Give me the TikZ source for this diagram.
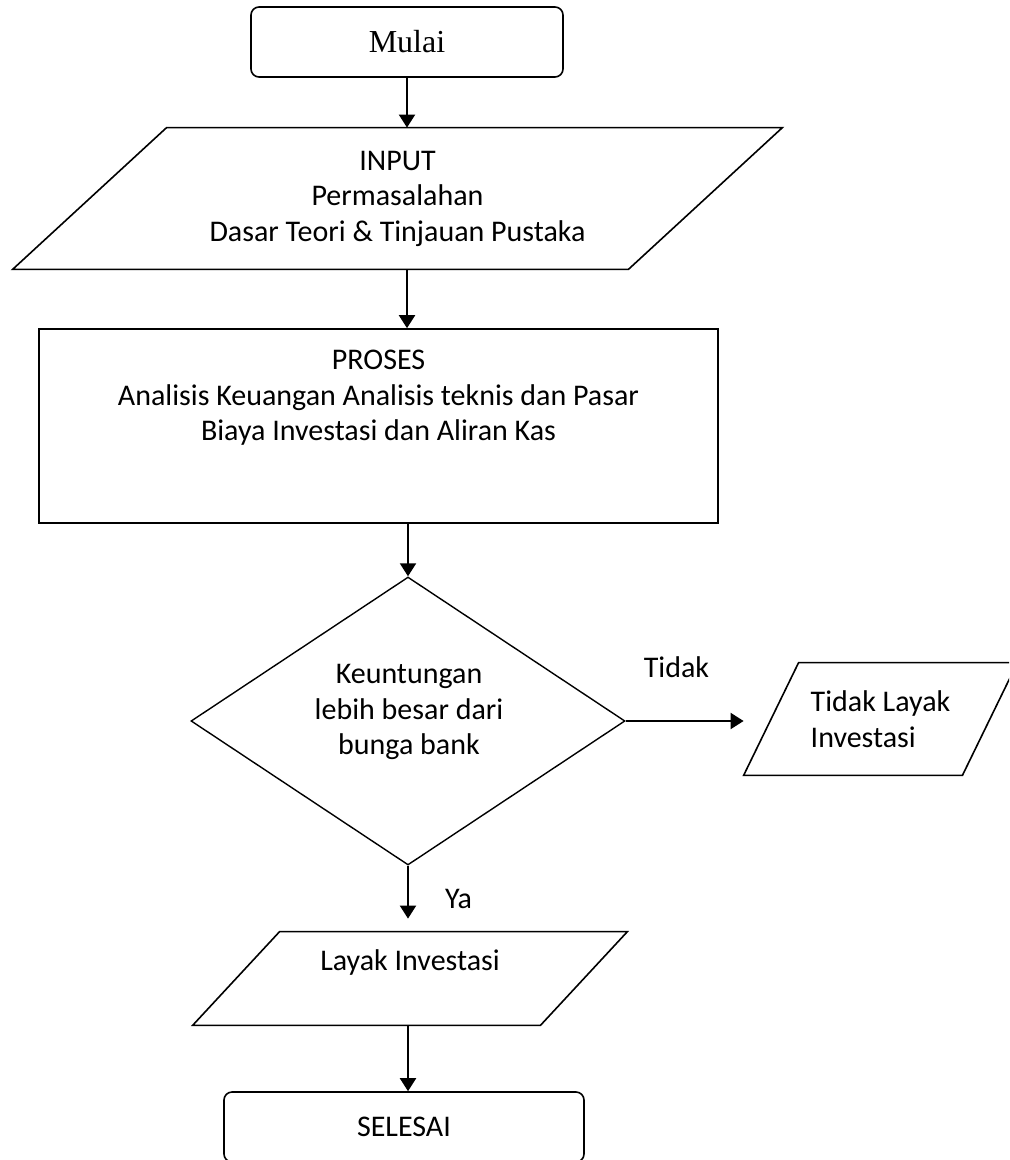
\documentclass[tikz,border=0pt]{standalone}
\usepackage{fontspec}
\setmainfont{Carlito}
\newfontfamily\mulaiserif{Liberation Serif}
\usetikzlibrary{arrows.meta, positioning}
\newcommand{\flowfont}{\fontsize{15}{17.75}\selectfont}
\newcommand{\mulaifont}{\mulaiserif\fontsize{16}{19}\selectfont}
\tikzset{
  terminal/.style={
    rectangle,
    rounded corners=4pt,
    draw,
    line width=0.8pt,
    inner sep=0pt,
    minimum height=35pt,
    font=\flowfont
  },
  process/.style={
    rectangle,
    draw,
    line width=0.8pt,
    inner sep=0pt
  },
  iobox/.style={
    rectangle,
    inner sep=0pt,
    align=center,
    font=\flowfont
  },
  ioline/.style={line width=0.8pt, line join=miter},
  decision/.style={
    diamond,
    draw,
    line width=0.7pt,
    inner sep=0pt
  },
  txt/.style={align=center, inner sep=0pt, font=\flowfont},
  arrow/.style={-{Triangle[length=6.5pt, width=8pt]}, line width=1pt},
  note/.style={inner sep=0pt, font=\flowfont}
}
\usetikzlibrary{shapes.geometric}
\begin{document}
\begin{tikzpicture}[x=0.5pt,y=-0.5pt]
\useasboundingbox (0,0) rectangle (1009,1160);
\clip (0,0) rectangle (1009,1160);
\node[terminal, minimum width=156pt, font=\mulaifont] (mulai) at (407,42) {Mulai};
% input / output boxes: slanted outline drawn from the node corners
\node[iobox, minimum width=384.5pt, minimum height=70.5pt] (input) at (397.5,198.5) {INPUT\\Permasalahan\\Dasar Teori \& Tinjauan Pustaka};
\draw[ioline] ([xshift=77pt]input.north west) -- (input.north east) -- ([xshift=-77pt]input.south east) -- (input.south west) -- cycle;
\node[process, minimum width=339.5pt, minimum height=97pt] (proses) at (378.5,426) {};
\node[txt, anchor=north] (prosestext) at (378.5,350) {PROSES\\Analisis Keuangan Analisis teknis dan Pasar\\Biaya Investasi dan Aliran Kas};
\node[decision, minimum width=217pt, minimum height=144pt] (decision) at (408,721) {};
\node[txt, anchor=north] (decisiontext) at (409,664) {Keuntungan\\lebih besar dari\\bunga bank};
\node[iobox, align=left, minimum width=136.5pt, minimum height=56pt] (tidaklayak) at (880.5,719) {Tidak Layak\\Investasi};
\draw[ioline] ([xshift=27.5pt]tidaklayak.north west) -- (tidaklayak.north east) -- ([xshift=-27.5pt]tidaklayak.south east) -- (tidaklayak.south west) -- cycle;
\node[iobox, minimum width=217pt, minimum height=46.5pt] (layak) at (410,978.5) {};
\draw[ioline] ([xshift=43.5pt]layak.north west) -- (layak.north east) -- ([xshift=-43.5pt]layak.south east) -- (layak.south west) -- cycle;
\node[txt, anchor=base] (layaktext) at (410,970) {Layak Investasi};
\node[terminal, minimum width=180pt] (selesai) at (404,1127) {SELESAI};

\draw[arrow] (mulai.south) -- (mulai.south |- input.north);
\draw[arrow] (input.south -| mulai.south) -- (proses.north -| mulai.south);
\draw[arrow] (proses.south -| decision.north) -- (decision.north);
\draw[arrow] (decision.east) -- node[note, above=21pt, pos=0.43] {Tidak} (decision.east -| tidaklayak.west);
\draw[arrow, shorten >=6.5pt] (decision.south) -- node[note, right=18pt] {Ya} (layak.north -| decision.south);
\draw[arrow] (layak.south -| decision.south) -- (selesai.north -| decision.south);
\end{tikzpicture}
\end{document}
